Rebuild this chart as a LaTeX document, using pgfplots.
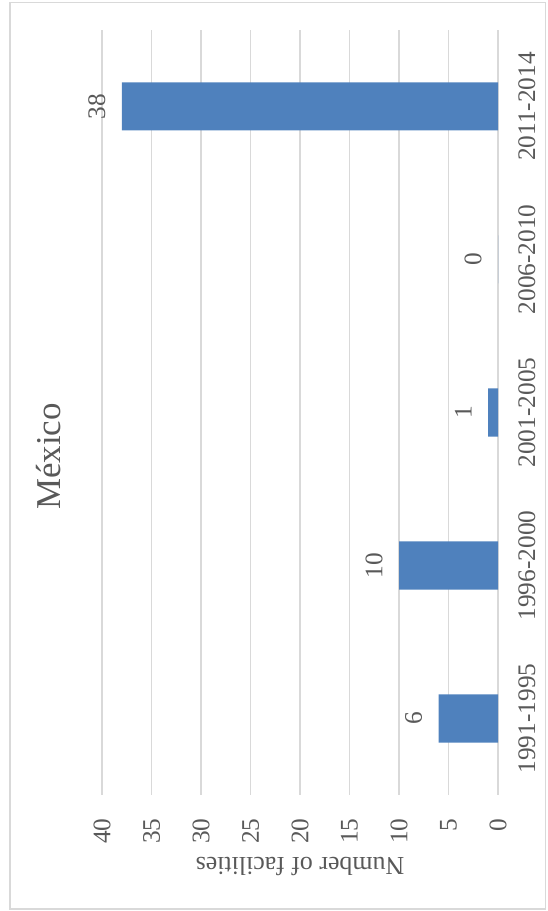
\documentclass[border=0pt]{standalone}
\usepackage{fontspec}
\setmainfont{Liberation Serif}
\usepackage{pgfplots}
\pgfplotsset{compat=1.18}
\definecolor{barblue}{RGB}{79,129,189}
\definecolor{gridgray}{RGB}{217,217,217}
\definecolor{txtgray}{RGB}{89,89,89}
\begin{document}
\begin{tikzpicture}[x=1bp,y=1bp]
\useasboundingbox (0,0) rectangle (273.5,455.5);
\draw[gridgray, line width=0.75bp] (5,1) rectangle (272.75,454.25);
\begin{axis}[
 at={(51bp,58bp)}, anchor=south west,
 scale only axis, width=198bp, height=382.5bp,
 xbar, bar width=0.314,
 x dir=reverse, xmin=0, xmax=40, xtick={0,5,...,40},
 ymin=-0.5, ymax=4.5, ytick={0,...,4},
 yticklabels={1991-1995,1996-2000,2001-2005,2006-2010,2011-2014},
 yticklabel pos=right,
 axis line style={draw=none},
 major tick length=0pt,
 xmajorgrids, grid style={gridgray, line width=0.75bp},
 /pgf/number format/assume math mode=true,
 tick label style={font=\fontsize{12.7}{14}\selectfont, text=txtgray},
 xticklabel style={rotate=90, anchor=east, inner xsep=11.5bp, inner ysep=0pt},
 yticklabel style={rotate=90, anchor=north, inner ysep=10bp, inner xsep=0pt},
 xlabel={Number of facilities},
 xlabel style={at={(axis description cs:0.5,-0.0941)}, anchor=center, rotate=180, font=\fontsize{13}{15}\selectfont, text=txtgray, inner sep=0pt},
 title={México},
 title style={at={(axis description cs:-0.1035,0.4268)}, anchor=south, rotate=90, font=\fontsize{17.5}{20}\selectfont, text=txtgray, inner sep=0pt},
 nodes near coords,
 nodes near coords style={rotate=90, anchor=south, inner ysep=8bp, inner xsep=0pt, font=\fontsize{12.7}{14}\selectfont, text=txtgray},
]
\addplot[fill=barblue, draw=none] coordinates {(6,0) (10,1) (1,2) (0,3) (38,4)};
\end{axis}
\end{tikzpicture}
\end{document}
